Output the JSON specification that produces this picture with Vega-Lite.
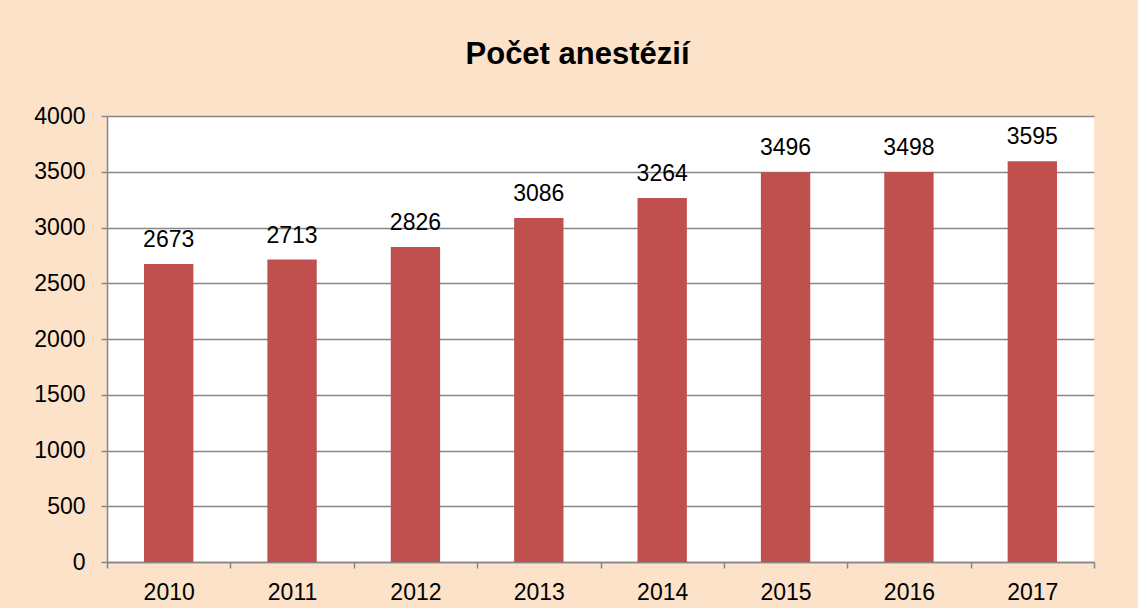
{
  "$schema": "https://vega.github.io/schema/vega-lite/v6.json",
  "autosize": {"type": "none"},
  "width": 987,
  "height": 446,
  "padding": {"left": 107, "top": 116, "right": 44, "bottom": 46},
  "background": "#FBE2C8",
  "title": {
    "text": "Počet anestézií",
    "font": "Liberation Sans",
    "fontSize": 31,
    "fontWeight": "bold",
    "color": "#000000",
    "anchor": "middle",
    "frame": "group",
    "dx": -23,
    "offset": 34
  },
  "data": {
    "values": [
      {"rok": "2010", "pocet": 2673},
      {"rok": "2011", "pocet": 2713},
      {"rok": "2012", "pocet": 2826},
      {"rok": "2013", "pocet": 3086},
      {"rok": "2014", "pocet": 3264},
      {"rok": "2015", "pocet": 3496},
      {"rok": "2016", "pocet": 3498},
      {"rok": "2017", "pocet": 3595}
    ]
  },
  "encoding": {
    "x": {
      "field": "rok",
      "type": "nominal",
      "sort": null,
      "scale": {"paddingInner": 0, "paddingOuter": 0},
      "axis": {
        "title": null,
        "labelAngle": 0,
        "labelFont": "Liberation Sans",
        "labelFontSize": 23,
        "labelColor": "#000000",
        "labelPadding": 13,
        "tickBand": "extent",
        "tickSize": 6,
        "tickColor": "#868686",
        "tickWidth": 1.5,
        "domainColor": "#868686",
        "domainWidth": 1.5,
        "grid": false
      }
    },
    "y": {
      "field": "pocet",
      "type": "quantitative",
      "scale": {"domain": [0, 4000], "nice": false},
      "axis": {
        "title": null,
        "format": "d",
        "values": [0, 500, 1000, 1500, 2000, 2500, 3000, 3500, 4000],
        "labelFont": "Liberation Sans",
        "labelFontSize": 23,
        "labelColor": "#000000",
        "labelPadding": 16,
        "tickSize": 6,
        "tickColor": "#868686",
        "tickWidth": 1.5,
        "domainColor": "#868686",
        "domainWidth": 1.5,
        "grid": true,
        "gridColor": "#868686",
        "gridWidth": 1.5
      }
    }
  },
  "layer": [
    {
      "mark": {"type": "bar", "color": "#C0504D", "width": {"band": 0.4}}
    },
    {
      "mark": {
        "type": "text",
        "font": "Liberation Sans",
        "fontSize": 23,
        "color": "#000000",
        "baseline": "alphabetic",
        "dy": -17
      },
      "encoding": {"text": {"field": "pocet", "type": "quantitative", "format": "d"}}
    }
  ],
  "config": {
    "view": {"fill": "#FFFFFF", "stroke": null}
  }
}
